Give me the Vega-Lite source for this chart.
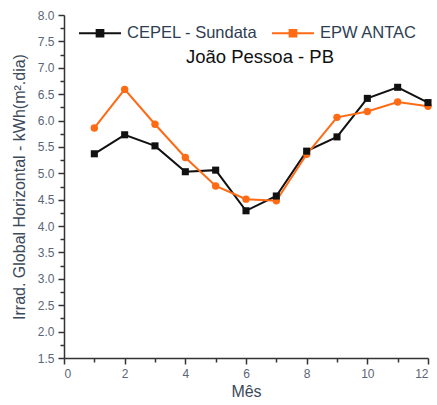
{
  "$schema": "https://vega.github.io/schema/vega-lite/v6.json",
  "autosize": "none",
  "width": 364,
  "height": 343,
  "padding": {"left": 64, "top": 15, "right": 9, "bottom": 47},
  "background": "white",
  "config": {
    "view": {"stroke": null},
    "font": "Liberation Sans"
  },
  "title": {
    "text": "João Pessoa - PB",
    "orient": "top",
    "anchor": "middle",
    "offset": -57,
    "dx": 14,
    "fontSize": 18.5,
    "fontWeight": "normal",
    "color": "#111111",
    "font": "Liberation Sans"
  },
  "data": {
    "values": [
      {"month": 1, "series": "CEPEL - Sundata", "value": 5.37},
      {"month": 2, "series": "CEPEL - Sundata", "value": 5.73},
      {"month": 3, "series": "CEPEL - Sundata", "value": 5.52},
      {"month": 4, "series": "CEPEL - Sundata", "value": 5.03},
      {"month": 5, "series": "CEPEL - Sundata", "value": 5.06},
      {"month": 6, "series": "CEPEL - Sundata", "value": 4.29},
      {"month": 7, "series": "CEPEL - Sundata", "value": 4.57},
      {"month": 8, "series": "CEPEL - Sundata", "value": 5.42},
      {"month": 9, "series": "CEPEL - Sundata", "value": 5.69},
      {"month": 10, "series": "CEPEL - Sundata", "value": 6.42},
      {"month": 11, "series": "CEPEL - Sundata", "value": 6.63},
      {"month": 12, "series": "CEPEL - Sundata", "value": 6.34},
      {"month": 1, "series": "EPW ANTAC", "value": 5.86},
      {"month": 2, "series": "EPW ANTAC", "value": 6.59},
      {"month": 3, "series": "EPW ANTAC", "value": 5.93},
      {"month": 4, "series": "EPW ANTAC", "value": 5.30},
      {"month": 5, "series": "EPW ANTAC", "value": 4.76},
      {"month": 6, "series": "EPW ANTAC", "value": 4.51},
      {"month": 7, "series": "EPW ANTAC", "value": 4.48},
      {"month": 8, "series": "EPW ANTAC", "value": 5.36},
      {"month": 9, "series": "EPW ANTAC", "value": 6.06},
      {"month": 10, "series": "EPW ANTAC", "value": 6.17},
      {"month": 11, "series": "EPW ANTAC", "value": 6.35},
      {"month": 12, "series": "EPW ANTAC", "value": 6.27}
    ]
  },
  "resolve": {"axis": {"x": "independent", "y": "independent"}},
  "layer": [
    {
      "mark": {"type": "line", "strokeWidth": 2},
      "encoding": {
        "x": {
          "field": "month", "type": "quantitative",
          "scale": {"domain": [0, 12], "nice": false, "zero": false},
          "axis": {
            "orient": "bottom",
            "values": [1, 3, 5, 7, 9, 11],
            "labels": false, "title": null, "domain": false, "grid": false,
            "tickSize": 4, "tickColor": "#333333", "tickWidth": 1.5
          }
        },
        "y": {
          "field": "value", "type": "quantitative",
          "scale": {"domain": [1.5, 8], "nice": false, "zero": false},
          "axis": {
            "orient": "left",
            "values": [1.75, 2.25, 2.75, 3.25, 3.75, 4.25, 4.75, 5.25, 5.75, 6.25, 6.75, 7.25, 7.75],
            "labels": false, "title": null, "domain": false, "grid": false,
            "tickSize": 4, "tickColor": "#333333", "tickWidth": 1.5
          }
        },
        "color": {
          "field": "series", "type": "nominal",
          "scale": {"domain": ["CEPEL - Sundata", "EPW ANTAC"], "range": ["#111111", "#ff6a14"]}
        },
        "detail": {"field": "series"}
      }
    },
    {
      "transform": [{"filter": "datum.series === 'EPW ANTAC'"}],
      "mark": {"type": "point", "filled": true, "opacity": 1, "shape": "circle", "size": 55},
      "encoding": {
        "x": {"field": "month", "type": "quantitative", "axis": null},
        "y": {"field": "value", "type": "quantitative", "axis": null},
        "color": {"field": "series", "type": "nominal"}
      }
    },
    {
      "transform": [{"filter": "datum.series === 'CEPEL - Sundata'"}],
      "mark": {"type": "point", "filled": true, "opacity": 1, "shape": "square", "size": 50},
      "encoding": {
        "x": {
          "field": "month", "type": "quantitative",
          "axis": {
            "orient": "bottom",
            "values": [0, 2, 4, 6, 8, 10, 12],
            "format": "d",
            "title": "Mês", "grid": false,
            "domainColor": "#333333", "domainWidth": 1.5,
            "tickSize": 6, "tickColor": "#333333", "tickWidth": 1.5,
            "labelFontSize": 12, "labelColor": "#5a6678", "labelPadding": 4,
            "titleFontSize": 16, "titleColor": "#3c4a5a", "titleFontWeight": "normal", "titlePadding": 4
          }
        },
        "y": {
          "field": "value", "type": "quantitative",
          "axis": {
            "orient": "left",
            "values": [1.5, 2, 2.5, 3, 3.5, 4, 4.5, 5, 5.5, 6, 6.5, 7, 7.5, 8],
            "format": ".1f",
            "title": "Irrad. Global Horizontal - kWh(m².dia)", "grid": false,
            "domainColor": "#333333", "domainWidth": 1.5,
            "tickSize": 6, "tickColor": "#333333", "tickWidth": 1.5,
            "labelFontSize": 12, "labelColor": "#5a6678", "labelPadding": 4,
            "titleFontSize": 16, "titleColor": "#3c4a5a", "titleFontWeight": "normal", "titlePadding": 10
          }
        },
        "color": {
          "field": "series", "type": "nominal",
          "legend": {
            "orient": "none",
            "direction": "horizontal",
            "legendX": 14,
            "legendY": -4,
            "title": null,
            "padding": 0,
            "symbolType": "M-1,0L1,0M-0.16,-0.16L0.16,-0.16L0.16,0.16L-0.16,0.16Z",
            "symbolSize": 1764,
            "symbolStrokeWidth": 2,
            "labelFontSize": 16.5,
            "labelColor": "#2e3e50",
            "labelOffset": 5,
            "columnPadding": 10
          }
        }
      }
    }
  ]
}
